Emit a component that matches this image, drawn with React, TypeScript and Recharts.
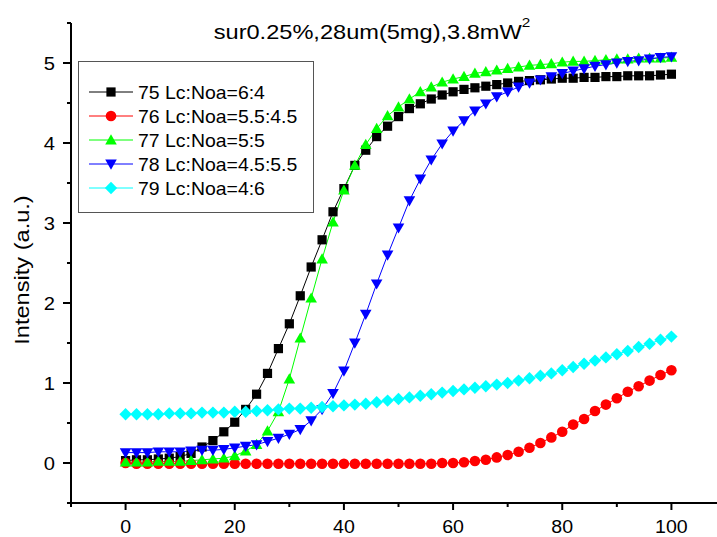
import React from 'react';
import { LineChart, Line, XAxis, YAxis } from 'recharts';

const xs = [
  0, 2, 4, 6, 8, 10, 12, 14, 16, 18, 20, 22, 24, 26, 28, 30, 32, 34, 36, 38, 40, 42, 44, 46, 48, 50,
  52, 54, 56, 58, 60, 62, 64, 66, 68, 70, 72, 74, 76, 78, 80, 82, 84, 86, 88, 90, 92, 94, 96, 98, 100,
];

const s75 = [
  0.03, 0.04, 0.04, 0.05, 0.06, 0.08, 0.12, 0.2, 0.28, 0.39, 0.51, 0.67, 0.86, 1.12, 1.43, 1.74, 2.09,
  2.45, 2.79, 3.14, 3.43, 3.72, 3.91, 4.08, 4.21, 4.33, 4.43, 4.49, 4.55, 4.6, 4.64, 4.67, 4.69, 4.71,
  4.73, 4.75, 4.77, 4.78, 4.79, 4.8, 4.81, 4.81, 4.82, 4.82, 4.83, 4.83, 4.84, 4.84, 4.84, 4.85, 4.86,
];
const s76 = [
  0.0, -0.01, -0.01, -0.01, -0.01, -0.01, -0.01, -0.01, -0.01, -0.01, -0.01, -0.01, -0.01, -0.01, -0.01,
  -0.01, -0.01, -0.01, -0.01, -0.01, -0.01, -0.01, -0.01, -0.01, -0.01, -0.01, -0.01, -0.01, -0.01, 0.0,
  0.0, 0.01, 0.025, 0.04, 0.07, 0.1, 0.14, 0.19, 0.25, 0.32, 0.39, 0.48, 0.55, 0.65, 0.73, 0.81, 0.89,
  0.96, 1.03, 1.1, 1.16,
];
const s77 = [
  0.01, 0.01, 0.01, 0.02, 0.02, 0.02, 0.03, 0.04, 0.05, 0.06, 0.09, 0.15, 0.23, 0.4, 0.64, 1.05, 1.56,
  2.06, 2.55, 3.01, 3.41, 3.72, 3.98, 4.18, 4.34, 4.45, 4.55, 4.64, 4.7, 4.76, 4.8, 4.83, 4.87, 4.89,
  4.91, 4.93, 4.95, 4.97, 4.98, 4.99, 5.01, 5.02, 5.02, 5.03, 5.04, 5.05, 5.05, 5.06, 5.06, 5.06, 5.07,
];
const s78 = [
  0.13, 0.13, 0.13, 0.14, 0.14, 0.14, 0.15, 0.16, 0.16, 0.17, 0.19, 0.21, 0.23, 0.27, 0.31, 0.36, 0.42,
  0.53, 0.67, 0.87, 1.15, 1.5, 1.86, 2.24, 2.6, 2.94, 3.28, 3.55, 3.79, 3.99, 4.15, 4.28, 4.4, 4.49,
  4.58, 4.64, 4.7, 4.75, 4.79, 4.83, 4.87, 4.9, 4.93, 4.96, 4.98, 5.0, 5.02, 5.03, 5.05, 5.07, 5.08,
];
const s79 = [
  0.61, 0.61, 0.61, 0.61, 0.62, 0.62, 0.62, 0.63, 0.63, 0.63, 0.64, 0.64, 0.65, 0.66, 0.67, 0.68, 0.68,
  0.69, 0.7, 0.71, 0.72, 0.73, 0.74, 0.76, 0.78, 0.8, 0.82, 0.84, 0.86, 0.88, 0.9, 0.92, 0.94, 0.96,
  0.98, 1.0, 1.03, 1.06, 1.09, 1.12, 1.16, 1.2, 1.24, 1.28, 1.32, 1.36, 1.4, 1.45, 1.49, 1.54, 1.58,
];

const xTicks = [-10, 0, 10, 20, 30, 40, 50, 60, 70, 80, 90, 100, 110];
const yTicks = [-0.5, 0, 0.5, 1, 1.5, 2, 2.5, 3, 3.5, 4, 4.5, 5, 5.5];

const series = [
  { key: 's75', name: '75 Lc:Noa=6:4', color: '#000000', shape: 'square' },
  { key: 's76', name: '76 Lc:Noa=5.5:4.5', color: '#ff0000', shape: 'circle' },
  { key: 's77', name: '77 Lc:Noa=5:5', color: '#00ff00', shape: 'up' },
  { key: 's78', name: '78 Lc:Noa=4.5:5.5', color: '#0000ff', shape: 'down' },
  { key: 's79', name: '79 Lc:Noa=4:6', color: '#00ffff', shape: 'diamond' },
];

const data = xs.map((x, i) => ({
  x,
  s75: s75[i],
  s76: s76[i],
  s77: s77[i],
  s78: s78[i],
  s79: s79[i],
}));

const FONT = '"Liberation Sans", Arial, sans-serif';

function Marker({ shape, cx, cy, color }: any) {
  if (cx == null || cy == null) return null;
  if (shape === 'square') {
    return <rect x={cx - 4.6} y={cy - 4.6} width={9.2} height={9.2} fill={color} />;
  }
  if (shape === 'circle') {
    return <circle cx={cx} cy={cy} r={5.3} fill={color} />;
  }
  if (shape === 'up') {
    return <polygon points={`${cx},${cy - 5.8} ${cx - 5.8},${cy + 4.4} ${cx + 5.8},${cy + 4.4}`} fill={color} />;
  }
  if (shape === 'down') {
    return <polygon points={`${cx},${cy + 5.8} ${cx - 5.8},${cy - 4.4} ${cx + 5.8},${cy - 4.4}`} fill={color} />;
  }
  return <polygon points={`${cx},${cy - 6.2} ${cx + 6.2},${cy} ${cx},${cy + 6.2} ${cx - 6.2},${cy}`} fill={color} />;
}

const XTick = ({ x, y, payload }: any) => {
  const v = payload.value;
  const major = v % 20 === 0;
  return (
    <g>
      <line x1={x} x2={x} y1={y} y2={y + (major ? 7 : 4)} stroke="#000" strokeWidth={2} />
      {major && (
        <text
          transform={`translate(${x},${y + 29.5}) scale(1.12,1)`}
          textAnchor="middle"
          fontSize={17.5}
          fontFamily={FONT}
          fill="#000"
        >
          {v}
        </text>
      )}
    </g>
  );
};

const YTick = ({ x, y, payload }: any) => {
  const v = payload.value;
  const major = Number.isInteger(v);
  return (
    <g>
      <line x1={x} x2={x - (major ? 8 : 4)} y1={y} y2={y} stroke="#000" strokeWidth={2} />
      {major && (
        <text
          transform={`translate(${x - 16},${y + 6.5}) scale(1.12,1)`}
          textAnchor="end"
          fontSize={18}
          fontFamily={FONT}
          fill="#000"
        >
          {v}
        </text>
      )}
    </g>
  );
};

export default function App() {
  return (
    <div
      style={{
        position: 'absolute',
        left: 0,
        top: 0,
        width: 717,
        height: 537,
        overflow: 'hidden',
        background: '#fff',
      }}
    >
      <LineChart width={740} height={537} data={data} margin={{ top: 23, right: 14, bottom: 0, left: 0 }}>
        <XAxis
          dataKey="x"
          type="number"
          domain={[-10, 110]}
          ticks={xTicks}
          interval={0}
          allowDataOverflow
          height={34}
          tickSize={0}
          tickMargin={0}
          tickLine={false}
          axisLine={{ stroke: '#000', strokeWidth: 2 }}
          tick={<XTick />}
        />
        <YAxis
          type="number"
          domain={[-0.5, 5.5]}
          ticks={yTicks}
          interval={0}
          allowDataOverflow
          width={71}
          tickSize={0}
          tickMargin={0}
          tickLine={false}
          axisLine={{ stroke: '#000', strokeWidth: 2 }}
          tick={<YTick />}
        />
        {series.map((s) => (
          <Line
            key={s.key}
            dataKey={s.key}
            name={s.name}
            type="linear"
            stroke={s.color}
            strokeWidth={1}
            isAnimationActive={false}
            activeDot={false}
            dot={(p: any) => (
              <Marker key={`${s.key}-${p.index}`} shape={s.shape} cx={p.cx} cy={p.cy} color={s.color} />
            )}
          />
        ))}
      </LineChart>
      <svg
        width={717}
        height={537}
        style={{ position: 'absolute', left: 0, top: 0, pointerEvents: 'none' }}
      >
        <text
          transform="translate(372,39) scale(1.18,1)"
          textAnchor="middle"
          fontSize={20}
          fontFamily={FONT}
          fill="#000"
        >
          sur0.25%,28um(5mg),3.8mW
          <tspan fontSize={13} dy={-12}>
            2
          </tspan>
        </text>
        <text
          transform="translate(29,270) rotate(-90) scale(1.18,1)"
          textAnchor="middle"
          fontSize={20}
          fontFamily={FONT}
          fill="#000"
        >
          Intensity (a.u.)
        </text>
        <rect x={78.5} y={61.5} width={235} height={151} fill="#fff" stroke="#555" strokeWidth={1} />
        {series.map((s, i) => {
          const cy = 92 + i * 24;
          return (
            <g key={s.key}>
              <line x1={89} x2={133} y1={cy} y2={cy} stroke={s.color} strokeWidth={1} />
              <Marker shape={s.shape} cx={111} cy={cy} color={s.color} />
              <text
                transform={`translate(138,${cy + 6.5}) scale(1.08,1)`}
                fontSize={18}
                fontFamily={FONT}
                fill="#000"
              >
                {s.name}
              </text>
            </g>
          );
        })}
      </svg>
    </div>
  );
}
